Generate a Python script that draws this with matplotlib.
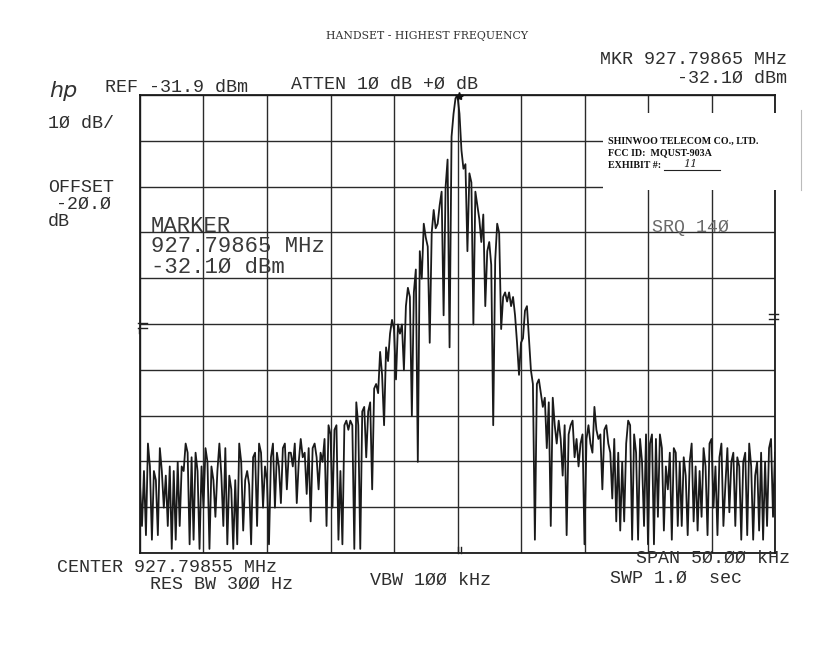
import numpy as np
import matplotlib
matplotlib.use('Agg')
import matplotlib.pyplot as plt
from matplotlib.patches import Rectangle
from matplotlib.lines import Line2D

# ---- instrument settings ----
CENTER_MHZ = 927.79855
SPAN_KHZ = 50.0
REF_DBM = -31.9
DB_PER_DIV = 10
N_DIV = 10
MARKER_OFFSET_KHZ = 0.10   # marker 927.79865 MHz
MARKER_DBM = -32.10

# ---- trace (dBm), left to right across the span ----
trace_dbm = [
    -117, -126, -114, -128, -108, -113, -129, -114, -116, -128,
    -109, -114, -122, -115, -126, -113, -131, -114, -129, -112,
    -126, -113, -114, -108, -110, -130, -111, -129, -110, -114,
    -131, -113, -122, -109, -112, -131, -113, -116, -124, -114,
    -108, -115, -126, -109, -130, -115, -118, -131, -116, -130,
    -108, -112, -127, -116, -114, -117, -130, -111, -110, -126,
    -108, -110, -122, -113, -116, -130, -111, -108, -122, -110,
    -113, -121, -109, -108, -118, -110, -110, -113, -108, -121,
    -112, -107, -111, -110, -119, -109, -125, -109, -108, -111,
    -118, -110, -112, -107, -126, -104, -106, -122, -105, -104,
    -129, -114, -130, -104, -103, -105, -103, -104, -131, -99,
    -104, -131, -101, -100, -111, -101, -99, -118, -96, -95,
    -97, -88, -93, -104, -87, -90, -84, -81, -83, -94,
    -82, -84, -82, -92, -78, -74, -76, -102, -75, -70,
    -112, -66, -72, -60, -63, -65, -86, -62, -57, -61,
    -60, -56, -53, -80, -52, -46, -87, -41, -36, -32.6,
    -32.1, -36, -44, -48, -47, -66, -49, -51, -82, -53,
    -56, -59, -64, -58, -78, -66, -64, -69, -104, -68,
    -60, -62, -83, -76, -75, -77, -75, -78, -76, -80,
    -86, -93, -86, -85, -79, -78, -85, -92, -95, -129,
    -95, -94, -97, -100, -98, -109, -99, -126, -98, -104,
    -108, -103, -107, -115, -104, -128, -106, -104, -103, -111,
    -107, -113, -108, -106, -130, -107, -104, -108, -110, -100,
    -105, -107, -106, -118, -105, -104, -108, -110, -120, -107,
    -125, -110, -127, -112, -125, -108, -103, -104, -129, -106,
    -110, -129, -107, -112, -126, -106, -130, -108, -106, -130,
    -107, -124, -106, -109, -127, -113, -118, -110, -129, -109,
    -110, -126, -112, -126, -111, -115, -128, -112, -108, -125,
    -113, -127, -114, -124, -109, -113, -128, -108, -107, -122,
    -113, -128, -111, -108, -126, -117, -109, -123, -112, -110,
    -126, -111, -113, -129, -112, -110, -128, -108, -113, -129,
    -115, -112, -127, -110, -129, -112, -126, -109, -107, -124,
    -110,
]

# ---- annotation texts ----
title_text = "HANDSET - HIGHEST FREQUENCY"
mkr_line1 = "MKR 927.79865 MHz"
mkr_line2 = "-32.1\u00d8 dBm"
ref_text = "REF -31.9 dBm"
atten_text = "ATTEN 1\u00d8 dB +\u00d8 dB"
scale_text = "1\u00d8 dB/"
offset_lines = ["OFFSET", "-2\u00d8.\u00d8", "dB"]
marker_block = ["MARKER", "927.79865 MHz", "-32.1\u00d8 dBm"]
label_lines = ["SHINWOO TELECOM CO., LTD.", "FCC ID:  MQUST-903A", "EXHIBIT #:"]
exhibit_no = "11"
srq_text = "SRQ 14\u00d8"
center_text = "CENTER 927.79855 MHz"
rbw_text = "RES BW 3\u00d8\u00d8 Hz"
vbw_text = "VBW 1\u00d8\u00d8 kHz"
span_text = "SPAN 5\u00d8.\u00d8\u00d8 kHz"
swp_text = "SWP 1.\u00d8  sec"

W, H = 823, 650
fig = plt.figure(figsize=(W / 100, H / 100), dpi=100)
fig.patch.set_facecolor('white')

L_, R_, T_, B_ = 140, 775, 95, 553
ax = fig.add_axes([L_ / W, 1 - B_ / H, (R_ - L_) / W, (B_ - T_) / H])
ax.set_facecolor('white')

half = SPAN_KHZ / 2
freq_khz = np.linspace(-half, half, len(trace_dbm))
ax.set_xlim(-half, half)
ax.set_ylim(REF_DBM - N_DIV * DB_PER_DIV, REF_DBM)
ax.set_xticks(np.linspace(-half, half, N_DIV + 1))
ax.set_yticks(np.linspace(REF_DBM - N_DIV * DB_PER_DIV, REF_DBM, N_DIV + 1))
ax.tick_params(length=0, labelbottom=False, labelleft=False)
ax.grid(True, color='#2a2a2a', lw=1.0)
for s in ax.spines.values():
    s.set_color('#1a1a1a')
    s.set_linewidth(1.3)

ax.plot(freq_khz, trace_dbm, color='#1a1a1a', lw=1.3, zorder=3)
ax.plot([MARKER_OFFSET_KHZ], [MARKER_DBM], marker='*', ms=6, color='#111',
        clip_on=False, zorder=4)

def fx(x):
    return x / W

def fy(y):
    return 1 - y / H

MONO = 'Liberation Mono'
TXT = '#2e2e2e'
SMALL = 13.2

def T(x, y, s, size=SMALL, ha='left', family=MONO, color=TXT, **kw):
    fig.text(fx(x), fy(y), s, ha=ha, va='center', fontsize=size,
             family=family, color=color, zorder=10, **kw)

def L(xs, ys, lw=1.0, color='#222'):
    fig.add_artist(Line2D([fx(v) for v in xs], [fy(v) for v in ys],
                          lw=lw, color=color, zorder=6))

# header
T(427, 36, title_text, size=7.8, ha='center', family='DejaVu Serif', color='#333')
T(787, 60, mkr_line1, ha='right')
T(787, 78, mkr_line2, ha='right')
T(63, 91, 'hp', size=16, ha='center', family='DejaVu Sans', style='italic',
  color='#333')
T(105, 87, ref_text)
T(291, 84, atten_text)
T(48, 123, scale_text)
T(48, 188, offset_lines[0])
T(56, 204, offset_lines[1])
T(48, 221, offset_lines[2])

# marker readout block
for i, s in enumerate(marker_block):
    T(151, 226 + 20.5 * i, s, size=16, color='#3a3a3a')

# pasted label
fig.add_artist(Rectangle((fx(603), fy(190)), (800 - 603) / W, (190 - 113) / H,
                         transform=fig.transFigure, facecolor='white',
                         edgecolor='none', zorder=5))
L([801, 801], [110, 190], lw=0.8, color='#bbbbbb')
for i, s in enumerate(label_lines):
    T(608, 141 + 12 * i, s, size=7.2, family='Liberation Serif', color='#111',
      weight='bold')
L([664, 720], [170, 170], lw=0.8, color='#222')
T(683, 164, exhibit_no, size=8, family='DejaVu Serif', style='italic', color='#222')

T(652, 228, srq_text, color='#6a6a6a')

# display-line marks
L([138, 147], [323, 323]); L([138, 147], [328, 328]); L([139, 139], [328, 333])
L([769, 778], [314, 314]); L([769, 778], [319, 319])
L([458, 458], [547, 553]); L([461, 461], [547, 553])

# footer
T(57, 567, center_text)
T(150, 584, rbw_text)
T(370, 580, vbw_text)
T(790, 558, span_text, ha='right')
T(610, 578, swp_text)

fig.savefig('out.png', dpi=100, facecolor='white')
